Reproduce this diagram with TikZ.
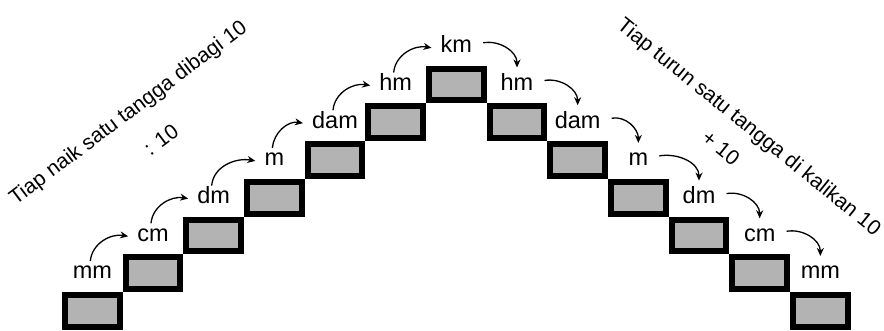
\documentclass[tikz,border=0pt]{standalone}
\usepackage{fontspec}
\setmainfont{Liberation Sans}
\usetikzlibrary{arrows.meta}
\definecolor{stepgray}{HTML}{B3B3B3}
\begin{document}
\begin{tikzpicture}[x=1pt,y=1pt,
  stepbox/.style={draw=black, line width=6pt, fill=stepgray,
    minimum width=54.67pt, minimum height=31.7pt, inner sep=0pt, outer sep=3pt},
  unit/.style={font=\fontsize{23.5}{28}\selectfont, inner sep=0pt, anchor=base},
  upar/.style={-{Stealth[length=8pt,width=7pt]}, line width=1.3pt, out=85, in=170},
  downar/.style={-{Stealth[length=8pt,width=7pt]}, line width=1.3pt, out=10, in=90},
  note/.style={font=\fontsize{21}{25}\selectfont, inner sep=0pt}]
\useasboundingbox (0,0) rectangle (884,-331);

% rising staircase, mm up to km
\foreach \i/\t in {0/mm,1/cm,2/dm,3/m,4/dam,5/hm,6/km} {
  \node[stepbox] (L\i) at ({92.33+60.67*\i}, {-(310.85-37.7*\i)}) {};
  \node[unit] (l\i) at ([yshift=13pt]L\i.north) {\t};
}
% falling staircase, km down to mm
\foreach \j/\t in {1/hm,2/dam,3/m,4/dm,5/cm,6/mm} {
  \node[stepbox] (R\j) at ({456.33+60.67*\j}, {-(84.65+37.7*\j)}) {};
  \node[unit] (r\j) at ([yshift=13pt]R\j.north) {\t};
}

% arrows going up (divide by 10)
\foreach \i/\k in {0/1,1/2,2/3,3/4,4/5,5/6}
  \draw[upar] ([xshift=-2pt,yshift=18pt]l\i.base) to ([xshift=-9pt,yshift=5pt]l\k.base west);

% arrows going down (multiply by 10)
\draw[downar] ([xshift=11pt,yshift=10pt]l6.base east) to ([yshift=23pt]r1.base);
\foreach \j/\k in {1/2,2/3,3/4,4/5,5/6}
  \draw[downar] ([xshift=11pt,yshift=10pt]r\j.base east) to ([yshift=23pt]r\k.base);

% slanted captions
\node[note, rotate=37, anchor=base] (up) at (132,-118) {Tiap naik satu tangga dibagi 10};
\node[note, rotate=37] (div) at (161,-140) {: 10};
\node[note, rotate=-39, anchor=base] (down) at (745,-132) {Tiap turun satu tangga di kalikan 10};
\node[note, rotate=-39] (mul) at (721,-148) {+ 10};
\end{tikzpicture}
\end{document}
